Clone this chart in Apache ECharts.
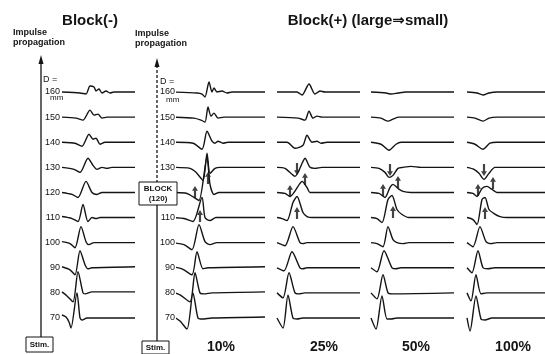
<!DOCTYPE html>
<html>
<head>
<meta charset="utf-8">
<script src="https://cdn.jsdelivr.net/npm/echarts@6/dist/echarts.min.js"></script>
<style>
html, body { margin: 0; padding: 0; background: #fff; }
#Root { width: 545px; height: 354px; }
</style>
</head>
<body>
<div id="Root"></div>
<script>
// recording distance D (mm), top row first
let Levels = [160, 150, 140, 130, 120, 110, 100, 90, 80, 70]
let PercentLabels = ["10%", "25%", "50%", "100%"]

//#region traces: [time, deflection] per row, same order as Levels
let BlockNone = [
    [[0,0],[18,-1],[24,-2],[28,6],[32,5],[34,1],[37,3],[40,-1],[44,1],[48,-1],[52,0],[73,0]],
    [[0,0],[14,-1],[21,-3],[28,7],[32,2],[36,3],[40,-1],[45,0],[73,0]],
    [[0,0],[13,-1],[20,-4],[27,8],[31,3],[34,4],[38,-2],[43,0],[73,0]],
    [[0,0],[12,-2],[18,-5],[26,9],[31,2],[35,-2],[40,0],[45,-1],[50,0],[73,0]],
    [[0,0],[10,-2],[16,-5],[24,11],[30,0],[35,-2],[40,0],[73,0]],
    [[0,1],[10,-1],[16,-4],[21,13],[26,-4],[30,0],[34,-1],[38,0],[73,0]],
    [[0,1],[8,-1],[13,-5],[19,16],[24,1],[27,-2],[32,0],[73,0]],
    [[0,1],[8,-2],[13,-7],[18,17],[23,3],[26,-1],[30,0],[73,1]],
    [[0,1],[5,-3],[11,-9],[16,21],[21,0],[23,-1],[30,1],[73,1]],
    [[0,3],[4,1],[7,-4],[9,-10],[15,25],[18,0],[20,-2],[25,0],[73,0]]
]
let Block10 = [
    [[0,0],[25,-1],[30,-2],[33,-5],[37,10],[40,0],[42,4],[45,0],[50,1],[55,-1],[60,0],[93,0]],
    [[0,0],[22,-1],[29,-3],[33,-5],[36,10],[39,1],[42,4],[46,-1],[52,0],[93,0]],
    [[0,0],[21,-1],[30,-7],[35,11],[40,1],[43,-1],[46,1],[51,-1],[56,0],[93,0]],
    [[0,0],[18,-1],[24,-5],[31,-13],[35,14],[38,-6],[43,-1],[48,0],[93,0]],
    [[0,0],[15,-1],[22,-5],[27,-8],[35,35],[38,8],[42,-2],[47,0],[93,0]],
    [[0,0],[12,-1],[21,-4],[30,20],[33,0],[38,-3],[44,0],[93,0]],
    [[0,0],[12,-2],[20,-7],[27,18],[33,1],[38,-2],[45,0],[93,0]],
    [[0,1],[10,-1],[20,-7],[25,16],[31,-1],[36,0],[93,1]],
    [[0,1],[8,-2],[18,-9],[23,20],[28,0],[32,-1],[40,0],[93,1]],
    [[0,2],[8,-3],[15,-11],[21,25],[26,0],[30,-1],[40,0],[93,1]]
]
let Block25 = [
    [[0,0],[20,0],[25,-3],[32,8],[38,-2],[43,1],[48,0],[83,0]],
    [[0,0],[21,-1],[28,-3],[32,6],[36,-1],[40,1],[45,0],[83,0]],
    [[0,0],[10,0],[18,-6],[26,-3],[30,7],[35,0],[40,1],[44,-1],[50,0],[83,0]],
    [[0,0],[8,-1],[18,-9],[26,6],[28,9],[33,0],[38,-1],[45,0],[83,0]],
    [[0,0],[8,-1],[13,-4],[23,9],[25,11],[30,5],[33,0],[40,0],[83,0]],
    [[0,0],[5,-1],[10,-3],[16,15],[20,21],[26,5],[30,1],[35,0],[83,0]],
    [[0,0],[8,-3],[16,16],[23,0],[26,-1],[30,0],[83,0]],
    [[0,0],[7,-3],[15,16],[23,0],[26,-1],[30,0],[83,0]],
    [[0,0],[6,-5],[12,20],[18,0],[22,-1],[28,0],[83,0]],
    [[0,0],[6,-10],[11,23],[16,0],[20,-1],[26,0],[83,0]]
]
let Block50 = [
    [[0,0],[15,-1],[20,-2],[27,-1],[35,0],[83,0]],
    [[0,0],[10,-1],[17,-4],[22,-2],[28,0],[83,0]],
    [[0,0],[10,-2],[18,-8],[25,-2],[30,0],[83,0]],
    [[0,0],[8,-1],[14,-5],[18,-10],[22,-8],[27,-1],[32,0],[40,1],[50,0],[83,0]],
    [[0,0],[8,-1],[14,-5],[19,5],[22,8],[27,4],[32,1],[40,0],[83,0]],
    [[0,0],[6,-1],[11,-5],[17,18],[21,22],[26,8],[31,3],[38,0],[83,0]],
    [[0,0],[6,-1],[12,-4],[17,16],[22,3],[26,0],[32,-1],[38,0],[83,0]],
    [[0,0],[6,-4],[13,17],[21,0],[25,-1],[30,0],[83,0]],
    [[0,0],[6,-6],[12,18],[17,0],[21,-1],[83,0]],
    [[0,0],[5,-11],[11,22],[16,-1],[20,-1],[26,0],[83,0]]
]
let Block100 = [
    [[0,0],[10,-1],[16,-3],[22,-1],[30,0],[78,0]],
    [[0,0],[8,-1],[16,-4],[22,-1],[30,0],[78,0]],
    [[0,0],[8,-2],[16,-7],[23,-1],[30,0],[78,0]],
    [[0,0],[7,-2],[12,-6],[17,-12],[22,-6],[28,0],[78,0]],
    [[0,0],[6,-1],[10,-4],[15,4],[20,6],[25,3],[30,0],[78,0]],
    [[0,0],[6,-2],[10,-7],[15,18],[18,20],[22,8],[27,4],[33,1],[40,0],[78,0]],
    [[0,0],[6,-4],[13,16],[19,1],[24,-1],[30,0],[78,0]],
    [[0,0],[5,-5],[11,17],[16,0],[21,-1],[28,0],[78,0]],
    [[0,0],[4,-8],[9,18],[14,-1],[20,0],[78,0]],
    [[0,0],[3,-13],[9,22],[14,-1],[18,-2],[25,0],[78,0]]
]
//#endregion

//#region arrow marks: [time, D, direction (1 up, -1 down)]
let Arrows10 = [[23, 120.2, 1], [36, 125.8, 1], [28, 110.6, 1]]
let Arrows25 = [[20, 129.3, -1], [28, 125.4, 1], [13, 120.6, 1], [20, 111.8, 1]]
let Arrows50 = [[19, 128.9, -1], [27, 124.2, 1], [12, 121, 1], [22, 112.2, 1]]
let Arrows100 = [[17, 128.9, -1], [26, 123.8, 1], [11, 121, 1], [18, 111.8, 1]]
//#endregion

// one deflection unit in D units
let AmpScale = 0.4

let Panels = [
    { traces: BlockNone, arrows: [], left: 62, from: 0, to: 73, labelMargin: 2 },
    { traces: Block10, arrows: Arrows10, left: 177, from: 5, to: 93, labelMargin: 2 },
    { traces: Block25, arrows: Arrows25, left: 277, from: 0, to: 83 },
    { traces: Block50, arrows: Arrows50, left: 371, from: 0, to: 83 },
    { traces: Block100, arrows: Arrows100, left: 467, from: 0, to: 78 }
]

let Ink = "#141414"
let ArrowPath = "path://M5,0 L10,9 L6.8,9 L6.8,22 L3.2,22 L3.2,9 L0,9 Z"

let grids = [], xAxes = [], yAxes = [], series = []
Panels.forEach(function (p, gi) {
    grids.push({ left: p.left, width: p.to - p.from, top: 66.9, height: 276.2 })
    xAxes.push({ gridIndex: gi, type: "value", min: p.from, max: p.to, show: false })
    yAxes.push({
        gridIndex: gi, type: "value", min: 60, max: 170, interval: 10,
        show: p.labelMargin !== undefined,
        axisLine: { show: false }, axisTick: { show: false }, splitLine: { show: false },
        axisLabel: {
            margin: p.labelMargin || 0, color: Ink, fontSize: 9, fontFamily: "Liberation Sans",
            formatter: function (v) { return (v >= 70 && v <= 160) ? v : "" }
        }
    })
    p.traces.forEach(function (tr, ri) {
        series.push({
            type: "line", xAxisIndex: gi, yAxisIndex: gi,
            symbol: "none", smooth: 0.25, silent: true,
            lineStyle: { color: Ink, width: 1.4 },
            data: tr.map(function (d) { return [d[0], Levels[ri] + d[1] * AmpScale] })
        })
    })
    if (p.arrows.length) {
        series.push({
            type: "scatter", xAxisIndex: gi, yAxisIndex: gi, silent: true,
            symbol: ArrowPath, symbolSize: [6, 12],
            itemStyle: { color: Ink },
            data: p.arrows.map(function (a) {
                return { value: [a[0], a[1]], symbolRotate: a[2] < 0 ? 180 : 0 }
            })
        })
    }
})

let txt = function (x, y, text, size, bold, align) {
    return {
        type: "text", x: x, y: y, silent: true, z: 110,
        style: {
            text: text, fill: Ink, fontSize: size, fontWeight: bold ? "bold" : "normal",
            fontFamily: "Liberation Sans, Arial, DejaVu Sans", align: align || "left", verticalAlign: "middle"
        }
    }
}
let ln = function (x1, y1, x2, y2, dash) {
    return { type: "line", silent: true, shape: { x1: x1, y1: y1, x2: x2, y2: y2 },
        style: { stroke: Ink, lineWidth: 1.3, lineDash: dash ? [3, 2] : null } }
}
let box = function (x, y, w, h) {
    return { type: "rect", silent: true, z: 100, shape: { x: x, y: y, width: w, height: h },
        style: { fill: "#fff", stroke: Ink, lineWidth: 1 } }
}
let head = function (x, y) {
    return { type: "polygon", silent: true, shape: { points: [[x, y], [x - 2.5, y + 9], [x + 2.5, y + 9]] },
        style: { fill: Ink } }
}

let graphics = [
    txt(90, 21, "Block(-)", 15, true, "center"),
    txt(368, 21, "Block(+) (large\u21d2small)", 15, true, "center"),
    txt(13, 33, "Impulse", 9, true), txt(13, 43, "propagation", 9, true),
    txt(135, 34, "Impulse", 9, true), txt(135, 44, "propagation", 9, true),
    // panel 1 axis
    ln(41, 62, 41, 337), head(41, 55),
    txt(43, 80, "D =", 9, false), txt(50, 98, "mm", 8, false),
    box(26, 337, 27, 15), txt(39.5, 345, "Stim.", 8, true, "center"),
    // panel 2 axis
    ln(157, 65, 157, 182, true), head(157, 58), ln(157, 205, 157, 341),
    txt(160, 82, "D =", 9, false), txt(166, 100, "mm", 8, false),
    box(139, 182, 38, 23), txt(158, 189, "BLOCK", 8, true, "center"), txt(158, 199, "(120)", 8, true, "center"),
    box(142, 341, 27, 13), txt(155.5, 348, "Stim.", 8, true, "center")
]
let PercentCenters = [221, 324, 416, 513]
PercentLabels.forEach(function (s, i) { graphics.push(txt(PercentCenters[i], 347, s, 14, true, "center")) })

let chart = echarts.init(document.getElementById("Root"), null, { renderer: "canvas" })
chart.setOption({
    animation: false,
    backgroundColor: "#fff",
    grid: grids, xAxis: xAxes, yAxis: yAxes,
    series: series,
    graphic: graphics
})
</script>
</body>
</html>
